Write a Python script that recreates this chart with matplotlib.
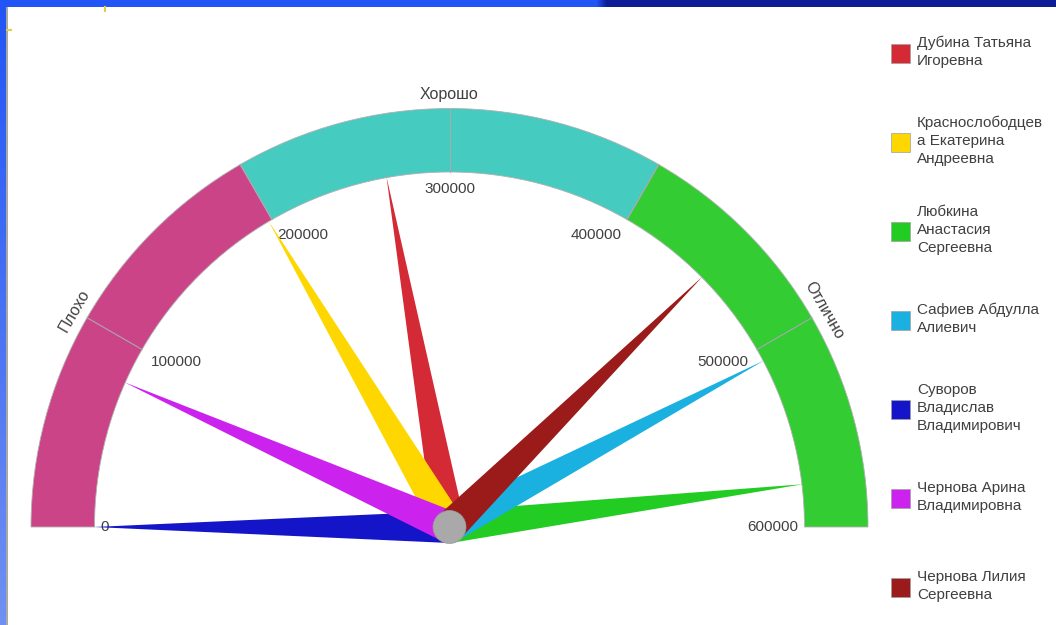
import numpy as np
import matplotlib
matplotlib.use("Agg")
import matplotlib.pyplot as plt
from matplotlib.patches import Wedge, Polygon, Circle, Rectangle

plt.rcParams['font.family'] = ['Liberation Sans', 'DejaVu Sans']

# data
names = ["Дубина Татьяна\nИгоревна",
         "Краснослободцев\nа Екатерина\nАндреевна",
         "Любкина\nАнастасия\nСергеевна",
         "Сафиев Абдулла\nАлиевич",
         "Суворов\nВладислав\nВладимирович",
         "Чернова Арина\nВладимировна",
         "Чернова Лилия\nСергеевна"]
values = [266000, 198000, 577000, 507000, 0, 80000, 451000]
colors = ["#d42a35", "#ffd700", "#22cc22", "#1ab0e0", "#1414c8", "#cc22ee", "#9b1b1b"]

band_edges = [0, 200000, 400000, 600000]
band_labels = ["Плохо", "Хорошо", "Отлично"]
band_colors = ["#cc4488", "#45cbc0", "#33cc33"]
ticks = [0, 100000, 200000, 300000, 400000, 500000, 600000]
vmax = 600000

W, H = 1056, 625
fig = plt.figure(figsize=(W / 100, H / 100), dpi=100)
ax = fig.add_axes([0, 0, 1, 1])
ax.set_xlim(0, W)
ax.set_ylim(0, H)
ax.axis('off')

cx, cy = 449.5, H - 527      # gauge centre (pixels, y up)
r_out, r_in = 418.5, 355
txt = "#404040"


def ang(v):
    return 180 - v / vmax * 180


# window chrome: top bar and left strip
top = np.zeros((1, 1056, 3))
xs = np.arange(1056)
mix = np.clip((xs - 596) / 10, 0, 1)[:, None]
top[0] = (1 - mix) * np.array([0x22, 0x55, 0xf5]) / 255 + mix * np.array([0x0b, 0x1e, 0x98]) / 255
ax.imshow(top, extent=(0, W, H - 7, H), aspect='auto', zorder=5)
left = np.linspace(0, 1, 200)[:, None, None] * (np.array([0x70, 0x90, 0xf2]) - np.array([0x22, 0x55, 0xf5])) / 255 \
    + np.array([0x22, 0x55, 0xf5]) / 255
ax.imshow(left, extent=(0, 6, 0, H - 7), aspect='auto', zorder=5)
ax.add_patch(Rectangle((6, 0), 1.5, H - 7, color="#a8a8a8", lw=0, zorder=5))
ax.plot([105, 105], [H - 7, H - 11], color="#e0d040", lw=1.5, zorder=5)
ax.plot([7, 11], [H - 30, H - 30], color="#e0d040", lw=1.5, zorder=5)

# colour bands
for i, lab in enumerate(band_labels):
    a1, a2 = ang(band_edges[i + 1]), ang(band_edges[i])
    ax.add_patch(Wedge((cx, cy), r_out, a1, a2, width=r_out - r_in,
                       facecolor=band_colors[i], edgecolor="#b0b0b0", lw=0.6))
    mid = (band_edges[i] + band_edges[i + 1]) / 2
    a = np.radians(ang(mid))
    ax.text(cx + 433 * np.cos(a), cy + 433 * np.sin(a), lab, rotation=ang(mid) - 90,
            ha='center', va='center', fontsize=11.5, color=txt)

# ticks and labels
for t in ticks:
    a = np.radians(ang(t))
    c, s = np.cos(a), np.sin(a)
    if 0 < t < vmax:
        ax.plot([cx + r_in * c, cx + r_out * c],
                [cy + r_in * s, cy + r_out * s], color="#a8a8b0", lw=0.8)
    ha = 'left' if c < -0.01 else ('right' if c > 0.01 else 'center')
    va = 'top' if s > 0.01 else 'center'
    rr = 349 if va == 'center' else 345
    ax.text(cx + rr * c, cy + rr * s, f"{t}", ha=ha, va=va, fontsize=11, color=txt)

# needles
hw = 16
for v, col in zip(values, colors):
    a = np.radians(ang(v))
    d = np.array([np.cos(a), np.sin(a)])
    p = np.array([-d[1], d[0]])
    tip = np.array([cx, cy]) + 356 * d
    b1 = np.array([cx, cy]) + hw * p
    b2 = np.array([cx, cy]) - hw * p
    ax.add_patch(Polygon([tip, b1, b2], closed=True, facecolor=col, edgecolor='none', zorder=3))
ax.add_patch(Circle((cx, cy), 16.5, facecolor="#a9a9a9", edgecolor="#9a9a9a", lw=0.5, zorder=4))

# legend
for i, (n, col) in enumerate(zip(names, colors)):
    yc = H - (53 + i * 89)
    ax.add_patch(Rectangle((891, yc - 9.5), 19, 19, facecolor=col, edgecolor="#a0a0a0", lw=0.5))
    ax.text(917, yc + 1, n, ha='left', va='center', fontsize=11, color=txt, linespacing=1.35)

fig.savefig("out.png", dpi=100)
